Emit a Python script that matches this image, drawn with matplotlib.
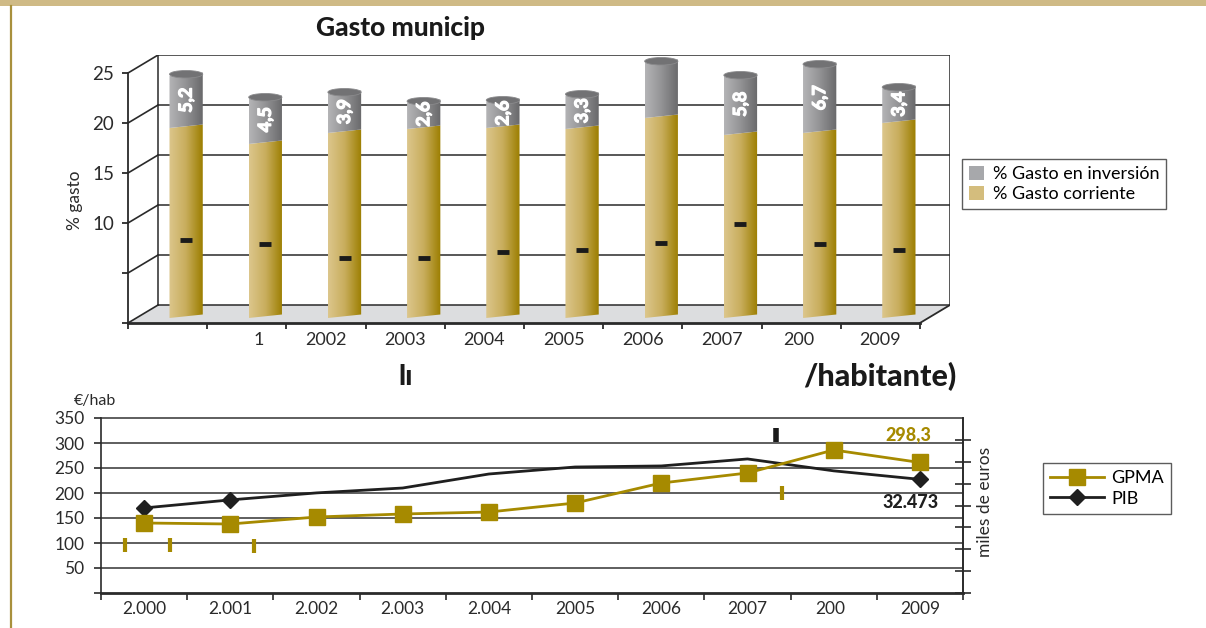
import numpy as np
import matplotlib.pyplot as plt
import matplotlib.patheffects as pe
from matplotlib.patches import Polygon, Ellipse, Rectangle, Patch
from matplotlib.lines import Line2D
from matplotlib.colors import LinearSegmentedColormap

plt.rcParams['font.family'] = ['Lato', 'DejaVu Sans']

# --- gasto municipal (%), barras apiladas ---
anios_sup = ['', '1', '2002', '2003', '2004', '2005', '2006', '2007', '200', '2009']
gasto_corriente = [19.0, 17.4, 18.5, 18.9, 19.0, 18.9, 20.0, 18.3, 18.5, 19.5]
gasto_inversion = [5.2, 4.5, 3.9, 2.6, 2.6, 3.3, 5.5, 5.8, 6.7, 3.4]
etiq_inversion = ['5,2', '4,5', '3,9', '2,6', '2,6', '3,3', '', '5,8', '6,7', '3,4']
marcas_corriente = [7.8, 7.4, 6.0, 6.0, 6.6, 6.8, 7.5, 9.4, 7.4, 6.8]

# --- gasto por habitante ---
anios_inf = ['2.000', '2.001', '2.002', '2.003', '2.004', '2005', '2006', '2007', '200', '2009']
gpma = [160.0, 157.7, 173.7, 180.6, 185.1, 205.7, 251.4, 274.3, 326.9, 298.3]
pib = [24.3, 26.6, 28.6, 30.0, 34.0, 36.0, 36.3, 38.3, 34.9, 32.473]
restos_oro = [(0.28, 96), (0.80, 96), (1.77, 94), (7.90, 200)]
restos_negro = [(7.83, 316)]

ORO = '#a68a00'
W, H = 1206, 628


def caja(x0, y0, x1, y1):
    return [x0 / W, 1 - y1 / H, (x1 - x0) / W, (y1 - y0) / H]


fig = plt.figure(figsize=(W / 100, H / 100), dpi=100)
fig.patches.append(Rectangle((0, 1 - 6 / H), 1, 6 / H, transform=fig.transFigure,
                             fc='#cfba86', ec='none'))
fig.lines.append(Line2D([11 / W, 11 / W], [0, 1 - 6 / H], transform=fig.transFigure,
                        color='#a8903c', lw=1.6))

# ---------------- grafico superior (pseudo 3D) ----------------
ax = fig.add_axes(caja(128, 55, 950, 323))
dx, dy = 30 / 79, 1.8
for s in ['top', 'right']:
    ax.spines[s].set_visible(False)
ax.spines['left'].set_bounds(0, 25)
ax.spines['bottom'].set_bounds(0, 10)
ax.spines['left'].set_color('#2a2a2a')
ax.spines['bottom'].set_color('#2a2a2a')
ax.spines['bottom'].set_linewidth(2)
ax.spines['left'].set_linewidth(1.3)
ax.set_yticks([0, 5, 10, 15, 20, 25])
ax.set_yticklabels(['', '', '10', '15', '20', '25'])
ax.set_xticks(range(11))
ax.set_xticklabels([])
ax.tick_params(axis='y', length=4, width=1.3, pad=6, labelsize=13.5, colors='#2a2a2a')
ax.tick_params(axis='x', length=4, width=1.3, colors='#2a2a2a')

ax.add_patch(Polygon([(0, 0), (10, 0), (10 + dx, dy), (dx, dy)], closed=True,
                     fc='#dcdddf', ec='none', zorder=0))
for v in range(0, 26, 5):
    ax.plot([0, dx], [v, v + dy], color='#2a2a2a', lw=1.2, zorder=1)
    ax.plot([dx, 10 + dx], [v + dy, v + dy], color='#2a2a2a', lw=1.1, zorder=1)
ax.plot([dx, dx], [dy, 25 + dy], color='#2a2a2a', lw=1.1, zorder=1)
ax.plot([10 + dx, 10 + dx], [dy, 25 + dy], color='#2a2a2a', lw=1.1, zorder=1)
ax.plot([10, 10 + dx], [0, dy], color='#2a2a2a', lw=1.3, zorder=1)

cmap_oro = LinearSegmentedColormap.from_list('oro', ['#dcc68c', '#c8ad5c', '#9c7e00'])
cmap_gris = LinearSegmentedColormap.from_list('gris', ['#b4b4b6', '#929294', '#69696b'])
grad = np.linspace(0, 1, 64).reshape(1, -1)

base, ancho, incl = 0.5, 0.42, 0.35
for i in range(len(gasto_corriente)):
    xc = i + 0.5 + 0.234
    x0, x1 = xc - ancho / 2, xc + ancho / 2
    tramos = [(base, base + gasto_corriente[i], cmap_oro),
              (base + gasto_corriente[i], base + gasto_corriente[i] + gasto_inversion[i], cmap_gris)]
    for y0, y1, cm in tramos:
        poly = Polygon([(x0, y0), (x1, y0 + incl), (x1, y1 + incl), (x0, y1)], closed=True,
                       fc='none', ec='none', zorder=3)
        ax.add_patch(poly)
        im = ax.imshow(grad, cmap=cm, extent=(x0, x1, y0, y1 + incl), aspect='auto',
                       interpolation='bilinear', zorder=3)
        im.set_clip_path(poly)
    tope = base + gasto_corriente[i] + gasto_inversion[i]
    ax.add_patch(Ellipse((xc, tope + incl / 2), ancho, 0.75, fc='#727274', ec='#8a8a8c',
                         lw=0.6, zorder=4))
    if etiq_inversion[i]:
        ax.text(xc, base + gasto_corriente[i] + gasto_inversion[i] / 2 + incl / 2,
                etiq_inversion[i], rotation=90, ha='center', va='center',
                color='white', fontsize=13, fontweight='bold', zorder=5,
                path_effects=[pe.withStroke(linewidth=0.9, foreground='white')])
    ax.plot(xc, base + marcas_corriente[i], marker='_', ms=9, mew=3.5,
            color='#1a1a1a', zorder=5)

ax.set_xlim(0, 10 + dx)
ax.set_ylim(0, 25 + dy)

for i, t in enumerate(anios_sup):
    if t == '1':
        ax.text(i + 0.72, -1.7, t, ha='right', va='center', fontsize=13, color='#2a2a2a')
    elif t == '200':
        ax.text(i + 0.27, -1.7, t, ha='left', va='center', fontsize=13, color='#2a2a2a')
    else:
        ax.text(i + 0.5, -1.7, t, ha='center', va='center', fontsize=13, color='#2a2a2a')

fig.text(400 / W, 1 - 28 / H, 'Gasto municip', ha='center', va='center',
         fontsize=19, fontweight='black', color='#1a1a1a')
fig.text(75 / W, 1 - 200 / H, '% gasto', rotation=90, ha='center', va='center',
         fontsize=12.5, color='#2a2a2a')

leg = ax.legend(handles=[Patch(fc='#a7a8ab', ec='none', label='% Gasto en inversión'),
                         Patch(fc='#d4bd7d', ec='none', label='% Gasto corriente')],
                loc='upper left', bbox_to_anchor=(962 / W, 1 - 159 / H),
                bbox_transform=fig.transFigure, fontsize=13, frameon=True,
                fancybox=False, handlelength=0.8, handleheight=0.8,
                handletextpad=0.5, borderpad=0.4, labelspacing=0.2, borderaxespad=0)
leg.get_frame().set_edgecolor('#333333')
leg.get_frame().set_linewidth(1)

fig.text(406 / W, 1 - 377 / H, 'lı', ha='center', va='center', fontsize=20,
         fontweight='black', color='#1a1a1a')
fig.text(880 / W, 1 - 377 / H, '/habitante)', ha='center', va='center', fontsize=22,
         fontweight='black', color='#1a1a1a')

# ---------------- grafico inferior ----------------
axb = fig.add_axes(caja(101, 418, 963, 593))
axb.set_xlim(0, 10)
axb.set_ylim(0, 350)
axb.spines['top'].set_visible(False)
for s in ['left', 'right']:
    axb.spines[s].set_color('#2a2a2a')
    axb.spines[s].set_linewidth(1.2)
axb.spines['bottom'].set_color('#2a2a2a')
axb.spines['bottom'].set_linewidth(2)
axb.set_yticks(range(0, 351, 50))
axb.set_yticklabels([''] + [str(v) for v in range(50, 351, 50)])
axb.set_xticks(range(11))
axb.set_xticklabels([])
axb.tick_params(axis='y', length=5, width=1.2, pad=7, labelsize=12.5, colors='#2a2a2a')
axb.tick_params(axis='x', length=5, width=1.2, colors='#2a2a2a')
for v in range(50, 351, 50):
    axb.axhline(v, color='#333333', lw=1.1, zorder=1, clip_on=False)

for i, t in enumerate(anios_inf):
    if t == '200':
        axb.text(i + 0.29, -32, t, ha='left', va='center', fontsize=12.5, color='#2a2a2a')
    else:
        axb.text(i + 0.5, -32, t, ha='center', va='center', fontsize=12.5, color='#2a2a2a')

fig.text(95 / W, 1 - 401 / H, '€/hab', ha='center', va='center', fontsize=11.5,
         color='#2a2a2a')

for x, y in restos_oro:
    axb.plot(x, y, marker='|', ms=10, mew=3, color=ORO, zorder=3)
for x, y in restos_negro:
    axb.plot(x, y, marker='|', ms=10, mew=4, color='#1a1a1a', zorder=3)

ax2 = axb.twinx()
ax2.set_ylim(0, 400)
ax2.set_yticks(range(0, 351, 50))
ax2.set_yticklabels([])
ax2.tick_params(axis='y', direction='inout', length=11, width=1.2, colors='#2a2a2a')
for s in ['top', 'left', 'bottom']:
    ax2.spines[s].set_visible(False)
ax2.spines['right'].set_color('#2a2a2a')
ax2.spines['right'].set_linewidth(1.2)

ax3 = axb.twinx()
ax3.set_ylim(0, 50)
ax3.axis('off')

xs = np.arange(len(anios_inf)) + 0.5
l_pib, = ax3.plot(xs, pib, color='#1f1f1f', lw=2, marker='D', ms=8,
                  markevery=[0, 1, 9], zorder=3)
l_gpma, = ax2.plot(xs, gpma, color=ORO, lw=2, marker='s', ms=12, zorder=4)
ax2.set_zorder(3)

ax2.annotate('298,3', (xs[-1], gpma[-1]), xytext=(-8, 20), textcoords='offset points',
             ha='center', va='center', fontsize=13, fontweight='black', color=ORO)
ax3.annotate('32.473', (xs[-1], pib[-1]), xytext=(-7, -17), textcoords='offset points',
             ha='center', va='center', fontsize=13, fontweight='black', color='#1f1f1f')

fig.text(985 / W, 1 - 502 / H, 'miles de euros', rotation=90, ha='center', va='center',
         fontsize=12.5, color='#2a2a2a')

leg2 = fig.legend(handles=[Line2D([], [], color=ORO, lw=2, marker='s', ms=12),
                           Line2D([], [], color='#1f1f1f', lw=2, marker='D', ms=8)],
                  labels=['GPMA', 'PIB'], loc='upper left',
                  bbox_to_anchor=(1043 / W, 1 - 463 / H), fontsize=13, frameon=True,
                  fancybox=False, handlelength=3.0, handletextpad=0.4, borderpad=0.4,
                  labelspacing=0.25, borderaxespad=0)
leg2.get_frame().set_edgecolor('#333333')
leg2.get_frame().set_linewidth(1)

fig.savefig('out.png', dpi=100)
